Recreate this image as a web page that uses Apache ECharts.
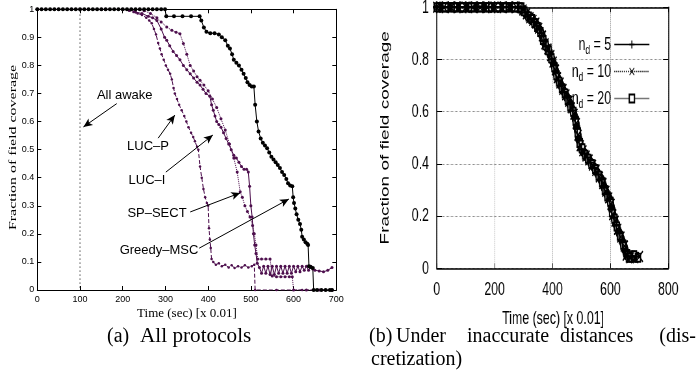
<!DOCTYPE html>
<html>
<head>
<meta charset="utf-8">
<script src="https://cdn.jsdelivr.net/npm/echarts@6/dist/echarts.min.js"></script>
<style>
html,body{margin:0;padding:0;background:#fff;}
#a{position:absolute;left:0;top:0;width:698px;height:378px;}
#b{position:absolute;left:360px;top:0;width:520px;height:335px;transform:scaleX(0.65);transform-origin:0 0;}
</style>
</head>
<body>
<div id="a"></div>
<div id="b"></div>
<script>
// ---------- Data: panel (a) ----------
const xTicksA = [0,100,200,300,400,500,600,700];
const yTicksA = [0,0.1,0.2,0.3,0.4,0.5,0.6,0.7,0.8,0.9,1];
const allAwake = [[0,1],[100,1],[100,0]];
const greedyMSC = [[0,1],[10,1],[20,1],[30,1],[40,1],[50,1],[60,1],[70,1],[80,1],[90,1],[100,1],[110,1],[120,1],[130,1],[140,1],[150,1],[160,1],[170,1],[180,1],[190,1],[200,1],[210,1],[220,1],[230,1],[240,1],[250,1],[260,1],[270,1],[280,1],[290,1],[299,1],[302,0.975],[320,0.975],[340,0.975],[360,0.975],[380,0.975],[384,0.96],[390,0.935],[396,0.92],[405,0.915],[415,0.915],[425,0.91],[432,0.9],[440,0.89],[446,0.87],[451,0.86],[456,0.84],[460,0.82],[466,0.81],[472,0.8],[478,0.785],[483,0.77],[488,0.755],[492,0.74],[497,0.73],[502,0.725],[507,0.725],[510,0.66],[514,0.6],[518,0.565],[523,0.54],[528,0.525],[533,0.515],[538,0.505],[543,0.49],[548,0.475],[553,0.465],[558,0.455],[563,0.445],[568,0.435],[573,0.42],[578,0.41],[583,0.395],[587,0.38],[592,0.372],[597,0.37],[599,0.33],[601,0.31],[604,0.29],[607,0.27],[611,0.25],[615,0.235],[618,0.215],[620,0.19],[624,0.18],[628,0.17],[632,0.165],[634,0.16],[636,0.085],[640,0.082],[645,0.078],[647,0],[655,0],[665,0],[675,0],[685,0],[690,0]];
const lucP = [[0,1],[50,1],[100,1],[150,1],[200,1],[215,0.995],[225,0.99],[235,0.985],[245,0.98],[255,0.97],[262,0.96],[268,0.95],[273,0.93],[278,0.91],[283,0.88],[287,0.86],[291,0.84],[296,0.82],[301,0.8],[306,0.785],[311,0.77],[315,0.75],[319,0.72],[322,0.7],[327,0.68],[332,0.66],[338,0.64],[344,0.62],[349,0.6],[354,0.58],[360,0.56],[365,0.545],[369,0.53],[374,0.51],[377,0.5],[381,0.44],[385,0.4],[389,0.36],[393,0.33],[397,0.31],[400,0.3],[402,0.22],[404,0.18],[406,0.15],[408,0.11],[412,0.1],[418,0.09],[425,0.095],[432,0.085],[440,0.09],[448,0.08],[455,0.088],[462,0.078],[470,0.085],[478,0.08],[486,0.088],[494,0.08],[502,0.085],[508,0.09],[510,0],[560,0],[620,0],[690,0]];
const lucI = [[0,1],[50,1],[100,1],[150,1],[200,1],[220,1],[230,0.99],[245,0.985],[260,0.975],[270,0.97],[280,0.96],[290,0.93],[298,0.9],[303,0.89],[310,0.87],[318,0.85],[326,0.835],[334,0.82],[342,0.8],[350,0.785],[358,0.77],[366,0.755],[374,0.74],[381,0.73],[388,0.715],[395,0.7],[404,0.69],[408,0.66],[412,0.64],[416,0.62],[420,0.6],[425,0.59],[430,0.58],[436,0.56],[442,0.54],[448,0.52],[454,0.5],[460,0.48],[466,0.47],[472,0.455],[478,0.44],[484,0.43],[490,0.43],[494,0.42],[497,0.37],[500,0.3],[503,0.26],[506,0.2],[509,0.16],[512,0.13],[515,0.095],[520,0.08],[525,0.06],[530,0.085],[535,0.06],[540,0.085],[545,0.055],[550,0.085],[555,0.055],[560,0.085],[565,0.06],[570,0.085],[575,0.06],[580,0.085],[585,0.06],[590,0.085],[595,0.06],[600,0.085],[605,0.065],[610,0.085],[615,0.065],[620,0.085],[625,0.07],[630,0.085],[635,0.07],[640,0.085],[645,0.075],[650,0.07],[660,0.068],[670,0.065],[680,0.07],[690,0.08]];
const spSect = [[0,1],[80,1],[160,1],[240,1],[250,0.995],[265,0.985],[280,0.97],[290,0.955],[303,0.937],[315,0.925],[325,0.918],[334,0.913],[342,0.878],[350,0.84],[358,0.8],[366,0.78],[374,0.76],[381,0.747],[390,0.73],[400,0.71],[410,0.68],[420,0.65],[430,0.61],[440,0.57],[450,0.52],[460,0.47],[468,0.42],[475,0.35],[480,0.33],[486,0.3],[492,0.28],[498,0.26],[504,0.23],[508,0.2],[512,0.16],[516,0.11],[525,0.11],[535,0.11],[545,0.11],[550,0.05],[560,0.047],[570,0.047],[580,0.047],[590,0.047],[597,0.047],[600,0],[630,0],[660,0],[690,0]];
// arrows (tail -> head) in data units
const arrowsA = [[[186,0.664],[108,0.581]],[[283,0.541],[322,0.623]],[[301,0.42],[411,0.552]],[[358,0.278],[475,0.346]],[[379,0.149],[589,0.324]]];

// ---------- Data: panel (b) ----------
const xTicksB = [0,200,400,600,800];
const yTicksB = [0,0.2,0.4,0.6,0.8,1];
const ndLabels = ['5','10','20'];
const nd5 = [[0,1],[20,1],[40,1],[60,1],[80,1],[100,1],[120,1],[140,1],[160,1],[180,1],[200,1],[220,1],[240,1],[260,1],[280,1],[295,0.995],[305,0.98],[315,0.965],[325,0.955],[335,0.945],[345,0.93],[355,0.915],[362,0.9],[370,0.87],[378,0.85],[388,0.83],[398,0.8],[405,0.78],[412,0.75],[420,0.72],[430,0.7],[440,0.675],[450,0.655],[460,0.63],[470,0.605],[478,0.575],[485,0.535],[492,0.49],[500,0.455],[510,0.44],[520,0.425],[532,0.405],[545,0.385],[558,0.36],[570,0.34],[578,0.31],[588,0.285],[598,0.265],[605,0.225],[612,0.195],[620,0.165],[630,0.135],[642,0.1],[652,0.065],[660,0.045],[675,0.045],[690,0.045]];
const nd10 = [[0,1],[25,1],[50,1],[75,1],[100,1],[125,1],[150,1],[175,1],[200,1],[225,1],[250,1],[275,1],[298,0.99],[310,0.975],[322,0.96],[332,0.95],[342,0.94],[352,0.92],[365,0.89],[374,0.86],[384,0.84],[394,0.815],[402,0.79],[410,0.76],[417,0.73],[426,0.71],[436,0.685],[446,0.665],[456,0.64],[465,0.615],[474,0.59],[482,0.555],[488,0.51],[496,0.47],[505,0.45],[516,0.43],[526,0.415],[538,0.395],[550,0.375],[562,0.35],[574,0.325],[584,0.295],[594,0.27],[602,0.245],[608,0.205],[616,0.18],[625,0.15],[636,0.12],[648,0.085],[655,0.05],[668,0.04],[684,0.04],[700,0.045]];
const nd20 = [[0,1],[30,1],[60,1],[90,1],[120,1],[150,1],[180,1],[210,1],[240,1],[270,1],[292,1],[302,0.985],[318,0.965],[328,0.955],[338,0.94],[348,0.925],[358,0.905],[368,0.875],[376,0.855],[386,0.835],[396,0.805],[407,0.77],[414,0.74],[423,0.715],[433,0.69],[443,0.67],[453,0.645],[462,0.62],[472,0.6],[480,0.565],[487,0.52],[494,0.48],[502,0.46],[513,0.435],[523,0.42],[535,0.4],[548,0.38],[560,0.355],[572,0.33],[581,0.3],[590,0.275],[600,0.255],[606,0.215],[614,0.19],[622,0.16],[633,0.125],[645,0.09],[657,0.055],[664,0.04],[680,0.05],[695,0.04]];

const PURPLE = '#4d0f4d';
const SANS = '"Liberation Sans", Arial, sans-serif';
const SERIF = '"Liberation Serif", "Times New Roman", serif';

function frameAxis(common, extra){ return Object.assign({}, common, extra); }
function txt(x,y,t,size,fam,align,extra){
  return Object.assign({type:'text',x:x,y:y,style:{text:t,fontSize:size,fontFamily:fam,fill:'#000',align:align||'center',verticalAlign:'middle'}}, extra||{});
}

// ---------- Chart A ----------
const ca = echarts.init(document.getElementById('a'), null, {renderer:'canvas'});
const axA = {
  type:'value', gridIndex:0,
  axisLine:{show:true,onZero:false,lineStyle:{color:'#000',width:1}},
  axisTick:{show:true,inside:true,length:4,lineStyle:{color:'#000'}},
  splitLine:{show:false}
};
ca.setOption({
  animation:false,
  backgroundColor:'#fff',
  grid:{left:37.3,top:9.3,width:299,height:280.7,containLabel:false,outerBoundsMode:'none'},
  xAxis:[
    frameAxis(axA,{min:xTicksA[0],max:xTicksA[xTicksA.length-1],interval:100,position:'bottom',
      axisLabel:{show:true,fontSize:9,color:'#000',fontFamily:SANS,margin:5,formatter:v=>String(v)}}),
    frameAxis(axA,{min:xTicksA[0],max:xTicksA[xTicksA.length-1],interval:100,position:'top',axisLabel:{show:false}})
  ],
  yAxis:[
    frameAxis(axA,{min:yTicksA[0],max:yTicksA[yTicksA.length-1],interval:0.1,position:'left',
      axisLabel:{show:true,fontSize:9,color:'#000',fontFamily:SANS,margin:3,formatter:v=>String(+v.toFixed(1))}}),
    frameAxis(axA,{min:yTicksA[0],max:yTicksA[yTicksA.length-1],interval:0.1,position:'right',axisLabel:{show:false}})
  ],
  series:[
    {name:'All awake',type:'line',data:allAwake,symbol:'none',lineStyle:{type:[1,3],color:'#000',width:1},
      markLine:{silent:true,symbol:['none','arrow'],symbolSize:[6,9],label:{show:false},
        lineStyle:{color:'#000',width:1,type:'solid'},
        data:arrowsA.map(a=>[{coord:a[0]},{coord:a[1]}])}},
    {name:'SP-SECT',type:'line',data:spSect,symbol:'circle',symbolSize:3,itemStyle:{color:PURPLE},lineStyle:{type:'dotted',color:PURPLE,width:1}},
    {name:'LUC-I',type:'line',data:lucI,symbol:'circle',symbolSize:3,itemStyle:{color:PURPLE},lineStyle:{color:PURPLE,width:1}},
    {name:'LUC-P',type:'line',data:lucP,symbol:'circle',symbolSize:2.5,itemStyle:{color:PURPLE},lineStyle:{type:'dashed',color:PURPLE,width:1}},
    {name:'Greedy-MSC',type:'line',data:greedyMSC,symbol:'circle',symbolSize:4,itemStyle:{color:'#000'},lineStyle:{color:'#000',width:1}}
  ],
  graphic:[
    txt(124.7,95,'All awake',13,SANS),
    txt(148,146.7,'LUC\u2013P',13,SANS),
    txt(147,180,'LUC\u2013I',13,SANS),
    txt(157,213.3,'SP\u2013SECT',13,SANS),
    txt(159,250,'Greedy\u2013MSC',13,SANS),
    txt(12.7,147.5,'Fraction of field coverage',11,SERIF,'center',{rotation:Math.PI/2,scaleX:1.45}),
    txt(187,314,'Time (sec) [x 0.01]',13,SERIF),
    txt(107,337,'(a)',20,SERIF,'left'),
    txt(140,337,'All protocols',20,SERIF,'left',{scaleX:1.06}),
    txt(369,337,'(b)',20,SERIF,'left'),
    txt(396,337,'Under',20,SERIF,'left'),
    txt(467,337,'inaccurate',20,SERIF,'left'),
    txt(560,337,'distances',20,SERIF,'left'),
    txt(696,337,'(dis-',20,SERIF,'right'),
    txt(371,360,'cretization)',20,SERIF,'left')
  ]
});

// ---------- Chart B (drawn in a horizontally compressed box) ----------
const cb = echarts.init(document.getElementById('b'), null, {renderer:'canvas'});
const PLUS = 'path://M4,0H6V4H10V6H6V10H4V6H0V4H4Z';
const CROSS = 'path://M1,0L5,4L9,0L10,1L6,5L10,9L9,10L5,6L1,10L0,9L4,5L0,1Z';
const gridLineB = {show:true,lineStyle:{type:'dotted',color:'#888',width:1}};
const axB = {
  type:'value', gridIndex:0,
  axisLine:{show:true,onZero:false,lineStyle:{color:'#000',width:1.5}},
  splitLine:{show:false}
};
cb.setOption({
  animation:false,
  backgroundColor:'transparent',
  grid:{left:118,top:7.3,width:356.3,height:261,containLabel:false,outerBoundsMode:'none'},
  legend:{
    data:[
      {name:'nd5'},
      {name:'nd10',lineStyle:{type:'dotted'}},
      {name:'nd20',lineStyle:{color:'#777'}}
    ],
    orient:'vertical',align:'right',right:69,top:27,itemGap:2,
    itemWidth:54,itemHeight:10,
    lineStyle:{width:1.5},
    formatter:function(name){const i=['nd5','nd10','nd20'].indexOf(name);return '{n|n}{d|d}{n| = '+ndLabels[i]+'}';},
    textStyle:{color:'#000',fontFamily:SANS,fontSize:19,
      rich:{n:{fontSize:19,fontFamily:SANS,color:'#000',lineHeight:20},d:{fontSize:13,fontFamily:SANS,color:'#000',lineHeight:13,padding:[12,0,0,0]}}}
  },
  xAxis:[
    frameAxis(axB,{min:xTicksB[0],max:xTicksB[xTicksB.length-1],interval:200,position:'bottom',
      axisTick:{show:true,inside:true,length:5,lineStyle:{color:'#000'}},
      splitLine:gridLineB,
      axisLabel:{show:true,fontSize:19,color:'#000',fontFamily:SANS,margin:12,formatter:v=>String(v)}}),
    frameAxis(axB,{min:xTicksB[0],max:xTicksB[xTicksB.length-1],interval:200,position:'top',
      axisTick:{show:true,inside:true,length:5,lineStyle:{color:'#000'}},axisLabel:{show:false}})
  ],
  yAxis:[
    frameAxis(axB,{min:yTicksB[0],max:yTicksB[yTicksB.length-1],interval:0.2,position:'left',
      axisTick:{show:true,inside:true,length:8,lineStyle:{color:'#000'}},
      splitLine:gridLineB,
      axisLabel:{show:true,fontSize:19,color:'#000',fontFamily:SANS,margin:12,formatter:v=>String(+v.toFixed(1))}}),
    frameAxis(axB,{min:yTicksB[0],max:yTicksB[yTicksB.length-1],interval:0.2,position:'right',
      axisTick:{show:true,inside:true,length:8,lineStyle:{color:'#000'}},axisLabel:{show:false}})
  ],
  series:[
    {name:'nd20',type:'line',data:nd20,clip:false,symbol:'emptyRect',symbolSize:8,itemStyle:{color:'#000',borderWidth:1.5},lineStyle:{color:'#000',width:10}},
    {name:'nd10',type:'line',data:nd10,clip:false,symbol:CROSS,symbolSize:12,itemStyle:{color:'#000'},lineStyle:{color:'#000',width:10,type:'solid'}},
    {name:'nd5',type:'line',data:nd5,clip:false,symbol:PLUS,symbolSize:12,itemStyle:{color:'#000'},lineStyle:{color:'#000',width:10}}
  ],
  graphic:[
    txt(38.5,137.8,'Fraction of field coverage',19,SANS,'center',{rotation:Math.PI/2}),
    txt(297,319,'Time (sec) [x 0.01]',19,SANS)
  ]
});
</script>
</body>
</html>
